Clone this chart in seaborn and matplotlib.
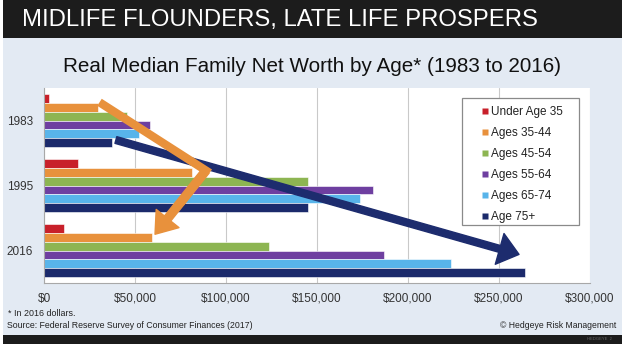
import pandas as pd
import matplotlib.pyplot as plt
import matplotlib.patches as mpatches
from matplotlib.lines import Line2D
import seaborn as sns

years = ['1983', '1995', '2016']
groups = ['Under Age 35', 'Ages 35-44', 'Ages 45-54', 'Ages 55-64', 'Ages 65-74', 'Age 75+']
under_35 = [2600, 18600, 10900]
ages_35_44 = [29800, 81400, 59400]
ages_45_54 = [45700, 145000, 123500]
ages_55_64 = [58000, 180500, 186700]
ages_65_74 = [52000, 173400, 223400]
age_75_plus = [37300, 145300, 264200]
x_ticks = [0, 50000, 100000, 150000, 200000, 250000, 300000]
x_tick_labels = ['$0', '$50,000', '$100,000', '$150,000', '$200,000', '$250,000', '$300,000']

colors = ['#c8202a', '#e8913c', '#8db552', '#6e3fa0', '#58b4ea', '#1b2a6b']
bg = '#e3eaf3'


def build_frame():
    series = [under_35, ages_35_44, ages_45_54, ages_55_64, ages_65_74, age_75_plus]
    rows = []
    for g, vals in zip(groups, series):
        for y, v in zip(years, vals):
            rows.append({'year': y, 'group': g, 'value': v})
    return pd.DataFrame(rows)


def fig_rect(x0, y0, x1, y1, **kw):
    # rectangle given in pixel coords (top-left origin) of the 630x351 canvas
    return mpatches.Rectangle((x0 / 630, 1 - y1 / 351), (x1 - x0) / 630, (y1 - y0) / 351,
                              transform=fig.transFigure, **kw)


sns.set_style('white')
plt.rcParams['font.family'] = ['Liberation Sans', 'DejaVu Sans']

df = build_frame()

fig = plt.figure(figsize=(6.3, 3.51), dpi=100)
fig.patch.set_facecolor('white')

# slide background and header / footer bars
fig.patches.append(fig_rect(3, 38, 622, 335, facecolor=bg, edgecolor='none', zorder=-10))
fig.patches.append(fig_rect(3, 0, 622, 38, facecolor='#1c1c1c', edgecolor='none', zorder=-10))
fig.patches.append(fig_rect(3, 335, 622, 344, facecolor='#1c1c1c', edgecolor='none', zorder=-10))

ax = fig.add_axes([44 / 630, 1 - 283 / 351, 546 / 630, 195 / 351])
ax.set_facecolor('white')

sns.barplot(data=df, x='value', y='year', hue='group', order=years, hue_order=groups,
            palette=colors, orient='h', width=0.81, gap=0, saturation=1,
            edgecolor='white', linewidth=0.4, ax=ax, zorder=2)
ax.get_legend().remove()

ax.set_xlim(0, 300000)
ax.set_ylim(2.5, -0.5)
ax.set_xticks(x_ticks)
ax.set_xticklabels(x_tick_labels)
ax.set_xlabel('')
ax.set_ylabel('')
ax.grid(axis='x', color='#c9c9c9', linewidth=0.8, zorder=0)
ax.set_axisbelow(True)
for s in ['top', 'right']:
    ax.spines[s].set_visible(False)
for s in ['left', 'bottom']:
    ax.spines[s].set_color('#a8a8a8')
    ax.spines[s].set_linewidth(0.8)
ax.tick_params(axis='x', colors='#a8a8a8', length=4, direction='inout', labelsize=8.5,
               labelcolor='#333333', pad=5)
ax.tick_params(axis='y', length=0, labelsize=8.5, labelcolor='#333333', pad=8)
ax.set_yticks([-0.5, 0.5, 1.5, 2.5], minor=True)
ax.tick_params(axis='y', which='minor', length=3, color='#a8a8a8')

# legend: entries without frame, box drawn separately
handles = [Line2D([0], [0], marker='s', linestyle='none', markersize=4,
                  markerfacecolor=c, markeredgecolor='none') for c in colors]
leg = fig.legend(handles, groups, loc='upper left', bbox_to_anchor=(481 / 630, 1 - 106.5 / 351),
                 bbox_transform=fig.transFigure, fontsize=8.5, frameon=False,
                 handlelength=0.6, handletextpad=0.25, labelspacing=0.76, borderpad=0,
                 borderaxespad=0)
leg.set_zorder(8)
for t in leg.get_texts():
    t.set_color('#222222')
fig.patches.append(fig_rect(462, 98, 579, 225, facecolor='white', edgecolor='#8a8a8a',
                            linewidth=0.9, zorder=5))

# orange arrow (bent)
orange = '#e8913c'
ax.plot([30500, 89000, 75000], [-0.28, 0.77, 1.27], color=orange, linewidth=6,
        solid_joinstyle='miter', solid_capstyle='butt', zorder=6)
ax.annotate('', xy=(61000, 1.75), xytext=(89000, 0.77), zorder=6,
            arrowprops=dict(arrowstyle='simple,head_length=1.45,head_width=2.1,tail_width=0.58',
                            mutation_scale=10, color=orange, shrinkA=0, shrinkB=0))

# navy arrow
navy = '#1d2c6e'
ax.annotate('', xy=(261000, 2.06), xytext=(39500, 0.30), zorder=5,
            arrowprops=dict(arrowstyle='simple,head_length=1.45,head_width=2.3,tail_width=0.5',
                            mutation_scale=10, color=navy, shrinkA=0, shrinkB=0))

# texts
fig.text(22 / 630, 1 - 20 / 351, 'MIDLIFE FLOUNDERS, LATE LIFE PROSPERS', color='white',
         fontsize=17.2, va='center', ha='left')
fig.text(312 / 630, 1 - 66 / 351, 'Real Median Family Net Worth by Age* (1983 to 2016)',
         color='#111111', fontsize=14.9, va='center', ha='center')
fig.text(8 / 630, 1 - 313 / 351, '* In 2016 dollars.', fontsize=6.4, color='#222222', va='center')
fig.text(7 / 630, 1 - 325 / 351, 'Source: Federal Reserve Survey of Consumer Finances (2017)',
         fontsize=6.3, color='#222222', va='center')
fig.text(616 / 630, 1 - 325 / 351, '\u00a9 Hedgeye Risk Management', fontsize=6.2,
         color='#222222', va='center', ha='right')
fig.text(612 / 630, 1 - 339.5 / 351, 'HEDGEYE  2', fontsize=3, color='#666666', va='center', ha='right')

fig.savefig('out.png', dpi=100, facecolor=fig.get_facecolor())
